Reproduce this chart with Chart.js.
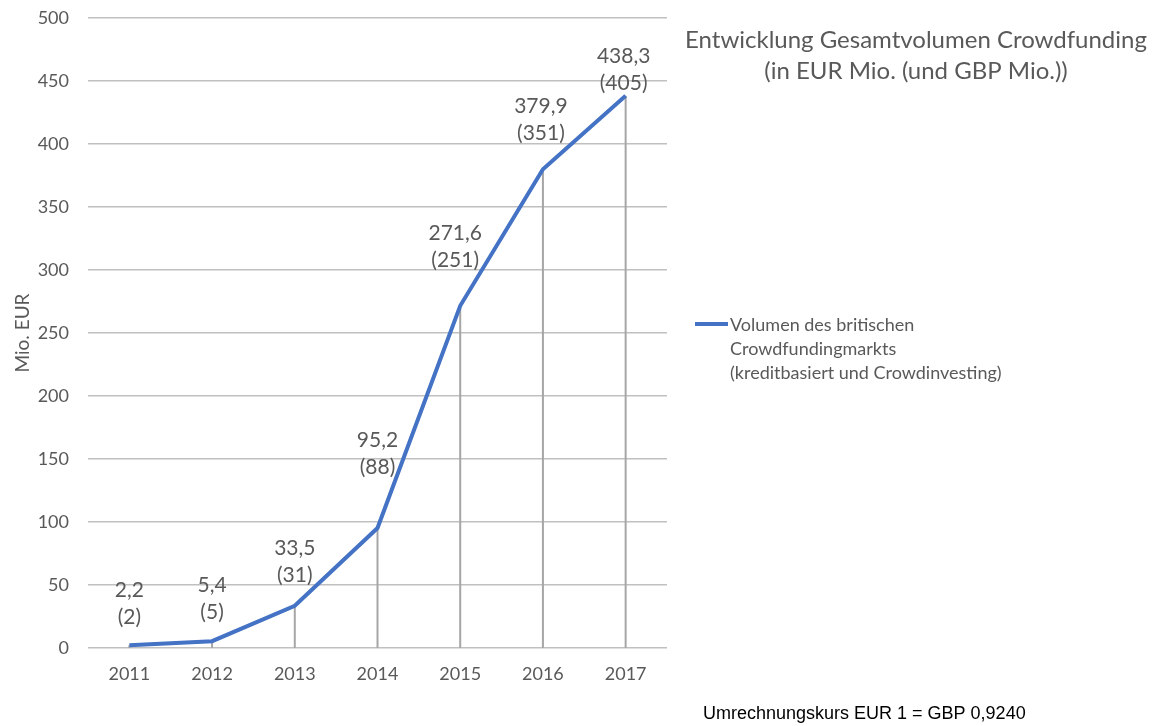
<!DOCTYPE html>
<html>
<head>
<meta charset="utf-8">
<script src="https://cdn.jsdelivr.net/npm/chart.js@4"></script>
<style>
  body { margin: 0; background: #fff; }
</style>
</head>
<body>
<canvas id="line-chart" width="1156" height="726"></canvas>
<script>
// Werte aus dem Bericht
years = ['2011', '2012', '2013', '2014', '2015', '2016', '2017']
volumeEUR = [2.2, 5.4, 33.5, 95.2, 271.6, 379.9, 438.3]
volumeGBP = [2, 5, 31, 88, 251, 351, 405]

titleLines = ['Entwicklung Gesamtvolumen Crowdfunding', '(in EUR Mio. (und GBP Mio.))']
legendLines = ['Volumen des britischen', 'Crowdfundingmarkts', '(kreditbasiert und Crowdinvesting)']
footnote = 'Umrechnungskurs EUR 1 = GBP 0,9240'

// Abstand der Beschriftung über dem Punkt (wie im Excel-Original versetzt)
labelLift = [28, 29, 31, 61, 46, 36, 13]
labelShift = [0, 0, 0, 0, -5, -2, -2]

textGrey = '#595959'
lineBlue = '#4472C4'

formatDE = function(v){
    return v.toFixed(1).replace('.', ',')
}

// senkrechte Linien vom Punkt bis zur x-Achse
dropLines = {
    id: 'dropLines',
    beforeDatasetsDraw: function(chart){
        var c = chart.ctx
        var y0 = chart.scales.y.getPixelForValue(0)
        c.save()
        c.strokeStyle = '#a6a6a6'
        c.lineWidth = 2
        chart.getDatasetMeta(0).data.forEach(function(pt){
            c.beginPath()
            c.moveTo(pt.x, pt.y)
            c.lineTo(pt.x, y0)
            c.stroke()
        })
        c.restore()
    }
}

// Wertebeschriftungen, Titel, Legende und Fußnote
extras = {
    id: 'extras',
    afterDraw: function(chart){
        var c = chart.ctx
        c.save()
        c.fillStyle = textGrey
        c.textAlign = 'center'
        c.textBaseline = 'middle'
        c.font = '21px Lato'
        chart.getDatasetMeta(0).data.forEach(function(pt, i){
            var x = pt.x + labelShift[i]
            var y = pt.y - labelLift[i]
            c.fillText('(' + volumeGBP[i] + ')', x, y)
            c.fillText(formatDE(volumeEUR[i]), x, y - 27)
        })

        c.font = '24px Lato'
        c.fillText(titleLines[0], 916, 40)
        c.fillText(titleLines[1], 916, 71)

        var ds = chart.data.datasets[0]
        c.strokeStyle = ds.borderColor
        c.lineWidth = 4
        c.beginPath()
        c.moveTo(695, 324)
        c.lineTo(728, 324)
        c.stroke()
        c.textAlign = 'left'
        c.font = '18px Lato'
        legendLines.forEach(function(t, i){
            c.fillText(t, 730, 325 + i * 24)
        })

        c.fillStyle = '#000'
        c.font = '18px "Liberation Sans"'
        c.fillText(footnote, 703, 714)
        c.restore()
    }
}

window.onload = function(){
    ctx = document.getElementById('line-chart')
    config = {
        type: 'line',
        data: {
            labels: years,
            datasets: [{
                label: legendLines.join(' '),
                data: volumeEUR,
                fill: false,
                borderColor: lineBlue,
                backgroundColor: lineBlue,
                borderWidth: 4,
                pointRadius: 0,
                tension: 0
            }]
        },
        options: {
            responsive: false,
            animation: false,
            layout: { padding: { top: 18, right: 489, left: 0, bottom: 0 } },
            plugins: {
                legend: { display: false },
                tooltip: { enabled: false }
            },
            scales: {
                x: {
                    offset: true,
                    grid: { display: false },
                    border: { display: false },
                    ticks: { color: textGrey, font: { family: 'Lato', size: 18 }, padding: 7 },
                    afterFit: function(s){ s.height = 78 }
                },
                y: {
                    min: 0,
                    max: 500,
                    ticks: { stepSize: 50, color: textGrey, font: { family: 'Lato', size: 18 }, padding: 19 },
                    grid: { color: '#c0c0c0', lineWidth: 1.5, drawTicks: false },
                    border: { display: false },
                    title: {
                        display: true,
                        text: 'Mio. EUR',
                        color: textGrey,
                        font: { family: 'Lato', size: 19 },
                        padding: { top: 11, bottom: 0 }
                    },
                    afterFit: function(s){
                        s.width = 88
                        s.paddingTop = 0
                        s.paddingBottom = 0
                    }
                }
            }
        },
        plugins: [dropLines, extras]
    }
    createNewChart = new Chart(ctx, config)
}
</script>
</body>
</html>
